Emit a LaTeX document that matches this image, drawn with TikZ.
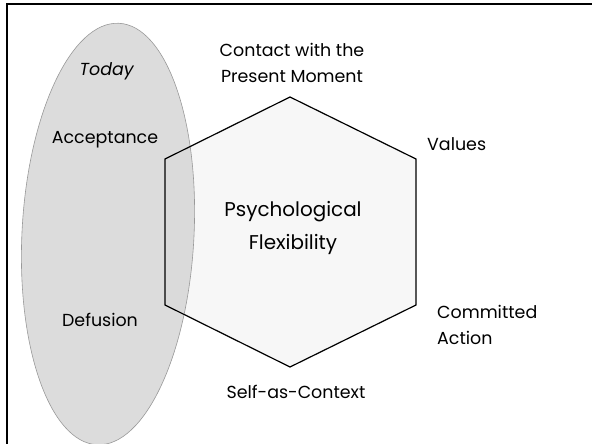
\documentclass[tikz,border=0pt]{standalone}
\usepackage{fontspec}
\setmainfont{Poppins}
\usetikzlibrary{calc,positioning}
\definecolor{hexgrey}{gray}{0.97}
\definecolor{ovalgrey}{gray}{0.84}

\begin{document}
\begin{tikzpicture}[x=1bp,y=-1bp]

\tikzset{termtext/.style={font=\fontsize{17.5}{26}\selectfont,inner sep=0pt},
bigtext/.style={font=\fontsize{20}{34}\selectfont,inner sep=0pt,align=center},
hexline/.style={draw=black,line width=1.2bp,line join=miter},
oval/.style={draw=black!40,line width=0.6bp,fill=ovalgrey,fill opacity=0.85}}

\useasboundingbox (0,0) rectangle (592,444);

% Frame
\coordinate (frameBL) at (7,444);
\coordinate (frameTL) at (7,4);
\coordinate (frameTR) at (592,4);
\draw[line width=2bp] (frameBL) -- (frameTL) -- (frameTR);

% Hexagon corners
\coordinate (hexTop) at (290,97);
\coordinate (hexUR) at (416,159);
\coordinate (hexLR) at (416,305);
\coordinate (hexBot) at (290,367);
\coordinate (hexLL) at (165,305);
\coordinate (hexUL) at (165,159);
\fill[hexgrey] (hexTop) -- (hexUR) -- (hexLR) -- (hexBot) -- (hexLL) -- (hexUL) -- cycle;

% Oval
\coordinate (ovalC) at (108,234);
\path[oval,rotate around={-3:(ovalC)}] (ovalC) ellipse (86 and 211);

% Hexagon edges
\draw[hexline] (hexTop) -- (hexUR) -- (hexLR) -- (hexBot) -- (hexLL) -- (hexUL) -- cycle;

% Oval texts
\node[termtext] (today) at (107,71) {\textit{Today}};
\node[termtext] (accept) at (105,140) {Acceptance};
\node[termtext] (defuse) at (100,320) {Defusion};

% Hexagon texts
\node[termtext,align=center] (contact) at ($(hexTop)+(2,-34)$) {Contact with the\\Present Moment};
\node[termtext,anchor=west] (values) at ($(hexUR)+(11,-15)$) {Values};
\node[termtext,anchor=west,align=left] (commit) at ($(hexLR)+(21,20)$) {Committed\\Action};
\node[termtext] (self) at ($(hexBot)+(6,25)$) {Self-as-Context};
\node[bigtext] (flex) at (293,228) {Psychological\\Flexibility};

\end{tikzpicture}
\end{document}
